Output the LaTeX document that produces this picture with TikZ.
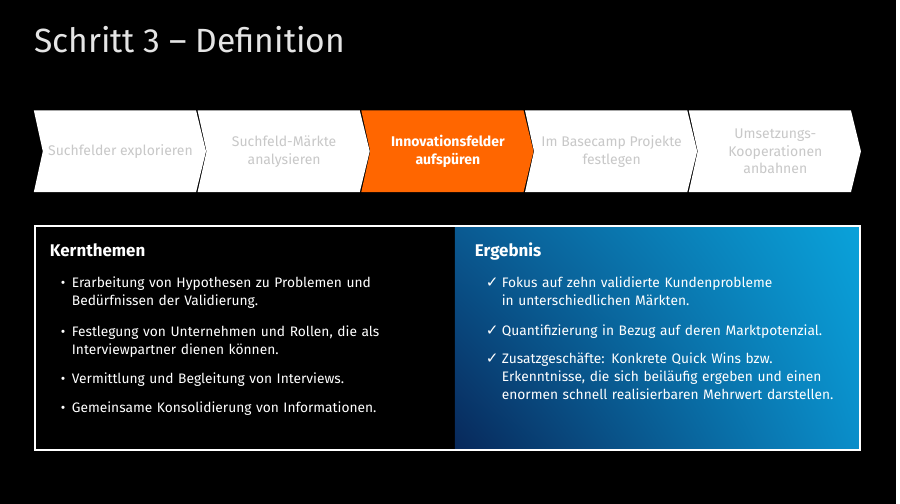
\documentclass[tikz,border=0pt]{standalone}
\usepackage{fontspec}
\setmainfont{Fira Sans}
\newfontfamily\symfont{DejaVu Sans}
\usetikzlibrary{shadings}
\definecolor{stepgray}{HTML}{C8C8C8}
\definecolor{steporange}{HTML}{FF6600}
\definecolor{blueTL}{HTML}{0A5A92}
\definecolor{blueTR}{HTML}{0AA2DA}
\definecolor{blueBL}{HTML}{08285A}
\definecolor{blueBR}{HTML}{0A8ECA}
\tikzset{
  steptext/.style={align=center, inner sep=0pt},
  listhead/.style={anchor=base west, inner sep=0pt, text=white, font=\fontsize{14.5}{16}\selectfont\bfseries},
  listtext/.style={anchor=base west, inner sep=0pt, text width=12cm, align=left, text=white, font=\fontsize{11.8}{15.4}\selectfont},
  listmark/.style={anchor=base west, inner sep=0pt, text=white, font=\fontsize{11.8}{15.4}\selectfont},
}
\begin{document}
\begin{tikzpicture}[x=0.03cm, y=-0.03cm]
  \fill[black] (0,0) rectangle (900,506);
  \node[anchor=base west, inner sep=0pt, text=white!90!black, font=\fontsize{28.8}{34}\selectfont] (title) at (34,53) {Schritt 3 – Definition};
  % process chevrons
  \foreach \i/\txt/\fc/\tc/\fs in {
      0/{Suchfelder explorieren}/white/stepgray/{},
      1/{Suchfeld-Märkte\\analysieren}/white/stepgray/{},
      2/{Innovationsfelder\\aufspüren}/steporange/white/\bfseries,
      3/{Im Basecamp Projekte\\festlegen}/white/stepgray/{},
      4/{Umsetzungs-\\Kooperationen\\anbahnen}/white/stepgray/{}} {
    \pgfmathsetmacro\L{34+164.5*\i}
    \fill[\fc] (\L,111) -- ++(163,0) -- ++(10,41) -- ++(-10,41) -- ++(-163,0) -- ++(9,-41) -- cycle;
    \node[steptext, text=\tc, font=\fontsize{12}{15.4}\selectfont\fs] (step\i) at (\L+87,152) {\txt};
  }
  \fill[black] (35,227) rectangle (864,452);
  \shade[upper left=blueTL, upper right=blueTR, lower left=blueBL, lower right=blueBR] (457,227) rectangle (864,452);
  \draw[white, line width=1.7pt] (35,227) rectangle (864,452);
  \node[listhead] (kern) at (50,258) {Kernthemen};
  \node[listhead] (erg) at (477,258) {Ergebnis};
  \foreach \n/\y/\txt in {
      1/289/{Erarbeitung von Hypothesen zu Problemen und\\Bedürfnissen der Validierung.},
      2/338/{Festlegung von Unternehmen und Rollen, die als\\Interviewpartner dienen können.},
      3/385/{Vermittlung und Begleitung von Interviews.},
      4/414/{Gemeinsame Konsolidierung von Informationen.}} {
    \node[listmark] (kb\n) at (61,\y) {•};
    \node[listtext] (k\n) at (72,\y) {\txt};
  }
  \foreach \n/\y/\txt in {
      1/289/{Fokus auf zehn validierte Kundenprobleme\\in unterschiedlichen Märkten.},
      2/337/{Quantifizierung in Bezug auf deren Marktpotenzial.},
      3/365/{Zusatzgeschäfte: Konkrete Quick Wins bzw.\\Erkenntnisse, die sich beiläufig ergeben und einen\\enormen schnell realisierbaren Mehrwert darstellen.}} {
    \node[listmark, font=\symfont\bfseries\fontsize{13}{15}\selectfont] (eb\n) at (488,\y) {✓};
    \node[listtext] (e\n) at (504,\y) {\txt};
  }
\end{tikzpicture}
\end{document}
